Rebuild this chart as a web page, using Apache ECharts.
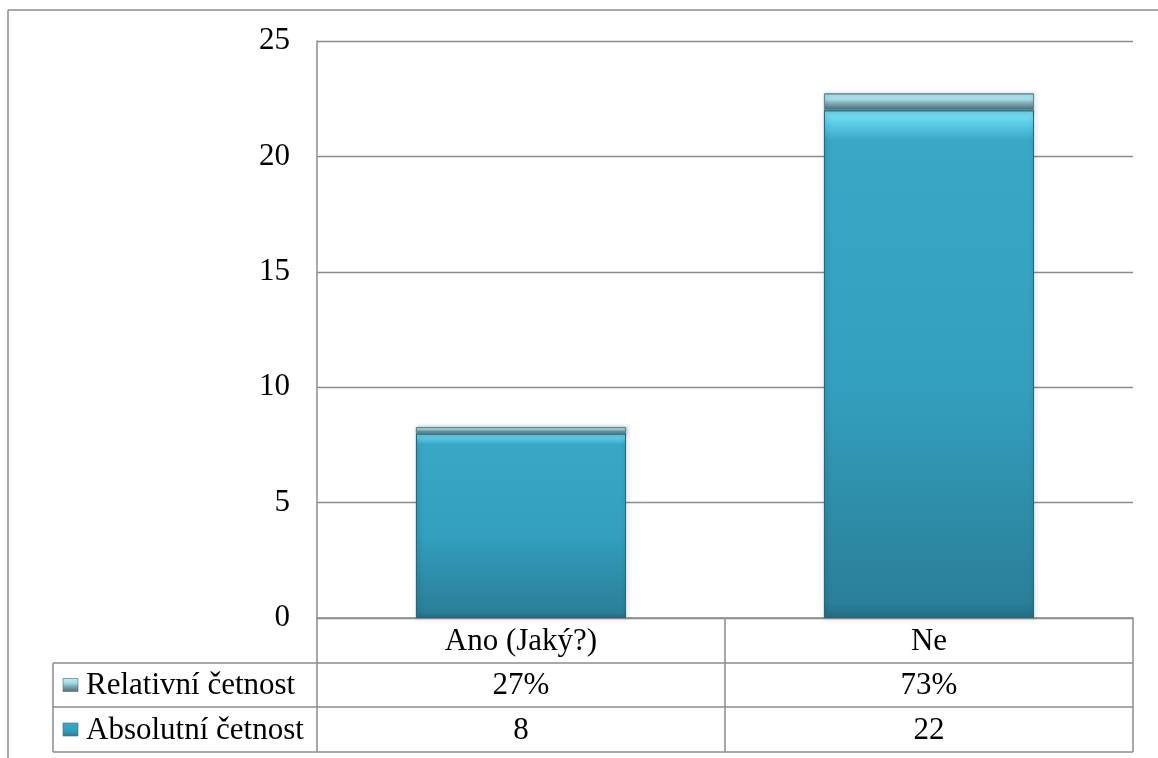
<!DOCTYPE html>
<html>
<head>
<meta charset="utf-8">
<script src="https://cdn.jsdelivr.net/npm/echarts@6/dist/echarts.min.js"></script>
<style>
  html, body { margin: 0; padding: 0; background: #fff; }
  #chart { width: 1158px; height: 758px; }
</style>
</head>
<body>
<div id="chart"></div>
<script>
// Categories and series values
const categories = ['Ano (Jaký?)', 'Ne'];
const absolutni = [8, 22];
const relativni = [0.27, 0.73];
const seriesNames = ['Relativní četnost', 'Absolutní četnost'];
const yTicks = { min: 0, max: 25, interval: 5 };

const FONT = '"Liberation Serif", "Times New Roman", serif';
const FS = 31;
const LINE = '#8c8c8c';

// Plot area edges (px)
const G = { left: 317, right: 1133, top: 41, bottom: 618 };
// Data table rows below the axis
const rowY = [618, 663, 707, 752];
const tableLeft = 53;

const chart = echarts.init(document.getElementById('chart'), null, { renderer: 'canvas' });

const absFill = new echarts.graphic.LinearGradient(0, 0, 0, 1, [
  { offset: 0, color: '#7fe6fa' },
  { offset: 0.025, color: '#5fcde8' },
  { offset: 0.06, color: '#38a8c6' },
  { offset: 0.55, color: '#339fbe' },
  { offset: 0.97, color: '#2a7f98' },
  { offset: 1, color: '#246f86' }
]);
const relFill = new echarts.graphic.LinearGradient(0, 0, 0, 1, [
  { offset: 0, color: '#b8eef8' },
  { offset: 0.35, color: '#a6dbe6' },
  { offset: 0.6, color: '#7ea9b6' },
  { offset: 1, color: '#4d6f7a' }
]);

chart.setOption({
  animation: false,
  backgroundColor: '#ffffff',
  grid: {
    left: G.left,
    right: 1158 - G.right,
    top: G.top,
    bottom: 758 - G.bottom,
    containLabel: false
  },
  xAxis: {
    type: 'category',
    data: categories,
    axisLine: { show: true, lineStyle: { color: LINE, width: 1.5 } },
    axisTick: { show: false },
    axisLabel: {
      fontFamily: FONT, fontSize: FS, color: '#000',
      margin: 8, lineHeight: FS
    },
    splitLine: { show: false }
  },
  yAxis: {
    type: 'value',
    min: yTicks.min, max: yTicks.max, interval: yTicks.interval,
    axisLine: { show: true, lineStyle: { color: LINE, width: 1.5 } },
    axisTick: { show: false },
    axisLabel: { fontFamily: FONT, fontSize: FS, color: '#000', margin: 27 },
    splitLine: { show: true, lineStyle: { color: LINE, width: 1.3 } }
  },
  series: [
    {
      name: seriesNames[1],
      type: 'bar',
      stack: 'total',
      data: absolutni,
      barWidth: '51.5%',
      itemStyle: {
        color: absFill,
        borderColor: '#236a80',
        borderWidth: 1,
        shadowBlur: 5,
        shadowColor: 'rgba(0,0,0,0.35)',
        shadowOffsetX: 1,
        shadowOffsetY: 1
      }
    },
    {
      name: seriesNames[0],
      type: 'bar',
      stack: 'total',
      data: relativni,
      barWidth: '51.5%',
      itemStyle: {
        color: relFill,
        borderColor: '#5f8794',
        borderWidth: 1,
        shadowBlur: 4,
        shadowColor: 'rgba(0,0,0,0.3)',
        shadowOffsetX: 1,
        shadowOffsetY: 0
      }
    }
  ]
});

// Data table, legend keys and outer frame
function buildTable() {
  const els = [];
  const ls = { stroke: LINE, lineWidth: 1.5 };
  const line = (x1, y1, x2, y2) => els.push({
    type: 'line', silent: true,
    shape: { x1, y1, x2, y2 }, style: ls
  });

  // outer frame
  line(8, 10, 1158, 10);
  line(8, 10, 8, 758);

  // horizontal rules
  for (let i = 1; i < rowY.length; i++) line(tableLeft, rowY[i], G.right, rowY[i]);
  // vertical rules
  line(tableLeft, rowY[1], tableLeft, rowY[3]);
  line(G.left, G.bottom, G.left, rowY[3]);
  const mid = (chart.convertToPixel({ xAxisIndex: 0 }, 0) + chart.convertToPixel({ xAxisIndex: 0 }, 1)) / 2;
  line(mid, rowY[0], mid, rowY[3]);
  line(G.right, rowY[0], G.right, rowY[3]);

  const rows = [
    { name: seriesNames[0], values: relativni.map(v => Math.round(v * 100) + '%'), fill: relFill },
    { name: seriesNames[1], values: absolutni.map(v => String(v)), fill: absFill }
  ];
  rows.forEach((r, i) => {
    const cy = (rowY[i + 1] + rowY[i + 2]) / 2;
    els.push({
      type: 'rect', silent: true,
      shape: { x: 63, y: cy - 6.5, width: 15, height: 13 },
      style: { fill: r.fill, stroke: '#4a6a75', lineWidth: 0.6 }
    });
    els.push({
      type: 'text', silent: true,
      style: {
        x: 86, y: cy + 1, text: r.name,
        font: FS + 'px ' + FONT, fill: '#000',
        textAlign: 'left', textVerticalAlign: 'middle'
      }
    });
    r.values.forEach((t, j) => {
      const cx = chart.convertToPixel({ xAxisIndex: 0 }, j);
      els.push({
        type: 'text', silent: true,
        style: {
          x: cx, y: cy + 1, text: t,
          font: FS + 'px ' + FONT, fill: '#000',
          textAlign: 'center', textVerticalAlign: 'middle'
        }
      });
    });
  });
  chart.setOption({ graphic: { elements: els } });
}
buildTable();
</script>
</body>
</html>
